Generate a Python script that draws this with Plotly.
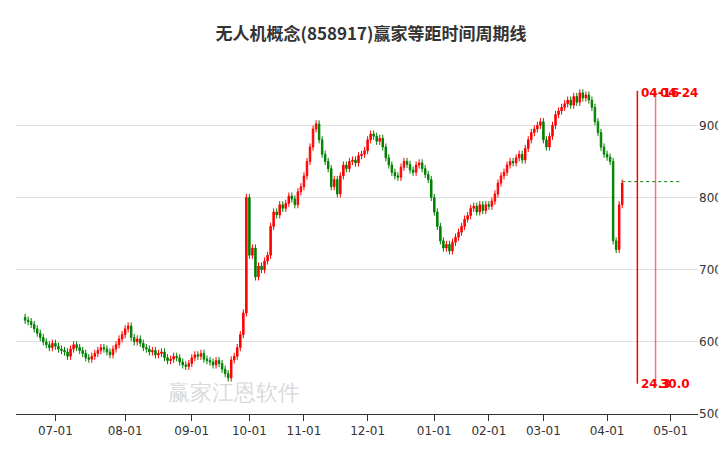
import pandas as pd
import plotly.graph_objects as go

holidays = ["2024-09-16", "2024-09-17", "2024-10-01", "2024-10-02", "2024-10-03", "2024-10-04",
            "2024-10-07", "2025-01-01", "2025-01-28", "2025-01-29", "2025-01-30", "2025-01-31",
            "2025-02-03", "2025-02-04", "2025-04-04", "2025-05-01", "2025-05-02", "2025-05-05"]

close_jun = [630, 628, 624, 618, 612, 606, 600, 596, 592, 598]
close_jul = [594, 590, 588, 586, 580, 590, 596, 592, 588, 584, 578, 576, 580, 584, 588, 592, 590, 586,
             582, 590, 596, 604, 610]
close_aug = [618, 622, 606, 600, 604, 598, 592, 590, 586, 588, 582, 584, 586, 578, 574, 576, 580, 578,
             572, 568, 566, 570]
close_sep = [578, 582, 580, 584, 576, 574, 572, 568, 574, 570, 562, 556, 550, 575, 580, 592, 610, 640]
close_oct = [800, 720, 730, 690, 705, 700, 712, 720, 760, 780, 776, 790, 785, 792, 802, 798, 790, 808]
close_nov = [815, 830, 850, 870, 895, 902, 880, 860, 850, 840, 815, 825, 805, 830, 845, 840, 850, 852,
             848, 858, 860]
close_dec = [865, 880, 888, 885, 878, 882, 870, 855, 845, 835, 830, 828, 842, 850, 846, 838, 835, 845,
             848, 840, 832, 825]
close_jan = [800, 780, 760, 740, 730, 735, 726, 738, 745, 752, 760, 770, 775, 785, 788, 780, 790, 782]
close_feb = [790, 788, 795, 805, 820, 830, 835, 845, 850, 848, 855, 860, 852, 868, 880, 890, 895, 900]
close_mar = [905, 880, 870, 885, 900, 915, 920, 925, 930, 935, 928, 940, 932, 945, 938, 942, 935, 925,
             905, 890, 870]
close_apr = [860, 856, 850, 740, 728, 790, 820]

closes = (close_jun + close_jul + close_aug + close_sep + close_oct + close_nov + close_dec +
          close_jan + close_feb + close_mar + close_apr)

days = [d for d in pd.bdate_range("2024-06-17", "2025-05-09") if d.strftime("%Y-%m-%d") not in holidays]
dates = [d.strftime("%Y-%m-%d") for d in days]
n = len(closes)

opens = [closes[0] + 4] + closes[:-1]
highs = [max(o, c) + 5 for o, c in zip(opens, closes)]
lows = [min(o, c) - 5 for o, c in zip(opens, closes)]

tickvals, ticktext = [], []
for d in days:
    key = d.strftime("%Y-%m")
    if not any(t.startswith(key) for t in tickvals) and d.month != 6:
        tickvals.append(d.strftime("%Y-%m-%d"))
        ticktext.append(d.strftime("%m-01"))

fig = go.Figure()
fig.add_trace(go.Candlestick(
    x=dates[:n], open=opens, high=highs, low=lows, close=closes,
    increasing=dict(line=dict(color="#ff0000", width=1), fillcolor="#ff0000"),
    decreasing=dict(line=dict(color="#008000", width=1), fillcolor="#008000"),
    whiskerwidth=0, showlegend=False))
fig.add_trace(go.Scatter(x=dates[n:], y=[None] * (len(dates) - n), showlegend=False))

fig.add_shape(type="line", x0=dates[n - 1], x1=dates[-1], y0=822, y1=822,
              line=dict(color="#008000", width=1, dash="dot"))
cycle_days = ["2025-04-16", "2025-04-24"]
cycle_vals = ["24.3", "30.0"]
for i, (d, v) in enumerate(zip(cycle_days, cycle_vals)):
    fig.add_shape(type="line", x0=d, x1=d, y0=542, y1=948,
                  line=dict(color="#ff0000" if i == 0 else "rgba(255,0,0,0.55)", width=1.5))
    fig.add_annotation(x=d, y=945, text="<b>" + d[5:] + "</b>", showarrow=False, xanchor="left", xshift=2,
                       font=dict(color="#ff0000", size=12, family="DejaVu Sans"))
    fig.add_annotation(x=d, y=542, text="<b>" + v + "</b>", showarrow=False, xanchor="left", xshift=2,
                       font=dict(color="#ff0000", size=12, family="DejaVu Sans"))

fig.add_annotation(xref="paper", yref="paper", x=0.22, y=0.02, text="赢家江恩软件",
                   showarrow=False, font=dict(size=22, color="rgba(170,170,170,0.45)"))

fig.update_layout(
    width=726, height=450, margin=dict(l=8, r=36, t=38, b=44),
    paper_bgcolor="white", plot_bgcolor="white",
    title=dict(text="<b>无人机概念(858917)赢家等距时间周期线</b>", x=0.5, y=0.955,
               font=dict(size=17, color="#333", family="Noto Sans CJK SC")),
    xaxis=dict(type="category", rangeslider=dict(visible=False), tickvals=tickvals, ticktext=ticktext,
               showgrid=False, showline=True, linecolor="#333", ticks="outside", ticklen=6,
               tickcolor="#333", tickfont=dict(size=12, color="#333"), range=[-3, len(dates) + 5]),
    yaxis=dict(side="right", range=[500, 1010], tickvals=[500, 600, 700, 800, 900],
               showgrid=True, gridcolor="#e0e0e0", tickfont=dict(size=12, color="#333"), zeroline=False),
    font=dict(family="DejaVu Sans"),
)
fig.write_html("out.html")
